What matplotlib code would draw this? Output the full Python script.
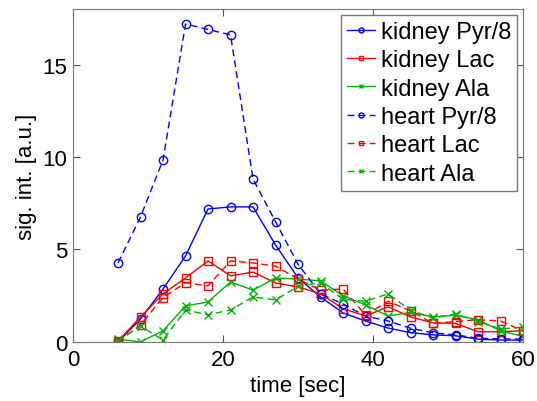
import matplotlib
matplotlib.use("Agg")
import matplotlib.pyplot as plt

plt.rcParams['font.family'] = ['Liberation Sans', 'DejaVu Sans']

# tempo de aquisicao [sec]
tempo = [6, 9, 12, 15, 18, 21, 24, 27, 30, 33, 36, 39, 42, 45, 48, 51, 54, 57, 60]

rim_pyr = [0.0, 1.24, 2.86, 4.65, 7.19, 7.3, 7.3, 5.24, 3.46, 2.43, 1.57, 1.13,
           0.75, 0.5, 0.38, 0.33, 0.15, 0.1, 0.1]
rim_lac = [0.05, 1.35, 2.6, 3.46, 4.38, 3.57, 3.78, 3.19, 2.97, 2.6, 1.8, 1.4,
           1.9, 1.35, 1.03, 1.0, 0.55, 0.55, 0.6]
rim_ala = [0.15, 0.0, 0.6, 1.95, 2.16, 3.24, 2.8, 3.46, 3.4, 3.3, 2.5, 2.0,
           1.4, 1.6, 1.35, 1.45, 1.2, 0.6, 0.3]
cor_pyr = [4.27, 6.76, 9.84, 17.19, 16.9, 16.6, 8.8, 6.5, 4.2, 2.6, 2.05, 1.4,
           1.13, 0.74, 0.49, 0.38, 0.2, 0.16, 0.15]
cor_lac = [0.0, 0.92, 2.4, 3.2, 3.03, 4.38, 4.27, 4.1, 3.4, 2.8, 2.86, 1.45,
           2.2, 1.68, 1.0, 1.1, 1.2, 1.13, 0.6]
cor_ala = [0.05, 0.86, 0.1, 1.73, 1.46, 1.73, 2.43, 2.27, 3.0, 3.2, 2.3, 2.2,
           2.6, 1.7, 1.3, 1.5, 1.1, 0.7, 0.8]

verde = (0, 0.7, 0)
tracejado = (0, (5, 3))
fs = 16

fig = plt.figure(figsize=(5.37, 4.02), dpi=100)
ax = fig.add_axes([0.136, 0.147, 0.838, 0.828])

ax.plot(tempo, rim_pyr, color='b', marker='o', mfc='none', ms=6, lw=1, label='kidney Pyr/8')
ax.plot(tempo, rim_lac, color='r', marker='s', mfc='none', ms=6, lw=1, label='kidney Lac')
ax.plot(tempo, rim_ala, color=verde, marker='x', ms=6, lw=1, label='kidney Ala')
ax.plot(tempo, cor_pyr, color='b', marker='o', mfc='none', ms=6, lw=1, ls=tracejado, label='heart Pyr/8')
ax.plot(tempo, cor_lac, color='r', marker='s', mfc='none', ms=6, lw=1, ls=tracejado, label='heart Lac')
ax.plot(tempo, cor_ala, color=verde, marker='x', ms=6, lw=1, ls=tracejado, label='heart Ala')

ax.set_xlim(0, 60)
ax.set_ylim(0, 18)
ax.set_xticks([0, 20, 40, 60])
ax.set_yticks([0, 5, 10, 15])
ax.tick_params(direction='in', top=True, right=True, labelsize=fs, length=5,
               colors='#555555', labelcolor='black')
ax.tick_params(axis='x', pad=5)
ax.tick_params(axis='y', pad=4)
for s in ax.spines.values():
    s.set_color('#777777')

ax.set_xlabel('time [sec]', fontsize=fs, labelpad=4)
ax.set_ylabel('sig. int. [a.u.]', fontsize=fs, labelpad=4)

leg = ax.legend(loc='upper right', fontsize=17, handlelength=1.2, handletextpad=0.25,
                borderaxespad=0.25, borderpad=0.25, labelspacing=0.27, fancybox=False,
                framealpha=1, markerscale=0.6)
leg.get_frame().set_edgecolor('#777777')

fig.savefig('out.png', dpi=100)
